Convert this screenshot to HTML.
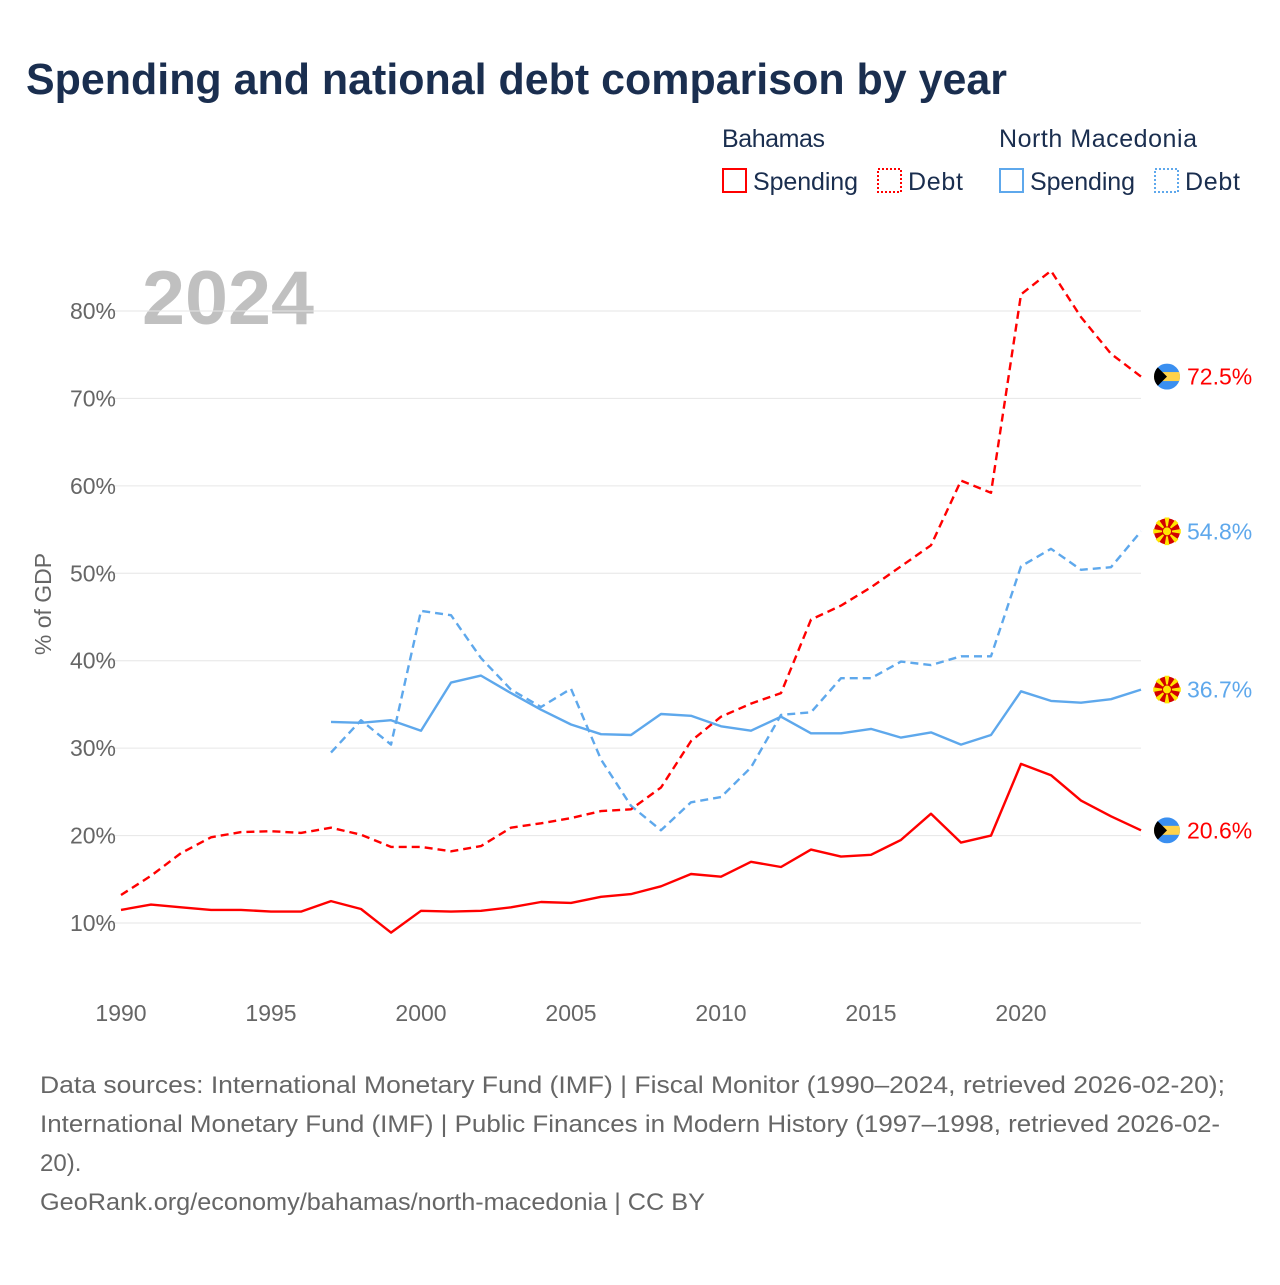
<!DOCTYPE html>
<html><head><meta charset="utf-8"><style>
body{margin:0;background:#fff;font-family:"Liberation Sans",sans-serif;}
svg text{font-family:"Liberation Sans",sans-serif;}
</style></head><body>
<svg width="1280" height="1280" viewBox="0 0 1280 1280" xmlns="http://www.w3.org/2000/svg">
<text x="26" y="94" font-size="44" font-weight="bold" fill="#1a2e4f" textLength="981" lengthAdjust="spacingAndGlyphs">Spending and national debt comparison by year</text>
<g font-size="25" fill="#1a2e4f">
<text x="722" y="147" fill="#1a2e4f" textLength="103">Bahamas</text>
<text x="999" y="147" fill="#1a2e4f" textLength="198">North Macedonia</text>
<rect x="723" y="169" width="23" height="23" fill="none" stroke="#f00" stroke-width="2"/>
<text x="753" y="190" fill="#1a2e4f" textLength="105">Spending</text>
<rect x="878" y="169" width="23" height="23" fill="none" stroke="#f00" stroke-width="2" stroke-dasharray="2,2"/>
<text x="908" y="190" fill="#1a2e4f" textLength="55">Debt</text>
<rect x="1000" y="169" width="23" height="23" fill="none" stroke="#5ea8ec" stroke-width="2"/>
<text x="1030" y="190" fill="#1a2e4f" textLength="105">Spending</text>
<rect x="1155" y="169" width="23" height="23" fill="none" stroke="#5ea8ec" stroke-width="2" stroke-dasharray="2,2"/>
<text x="1185" y="190" fill="#1a2e4f" textLength="55">Debt</text>
</g>
<text x="142" y="324" font-size="76" font-weight="bold" fill="#c0c0c0" textLength="172" lengthAdjust="spacingAndGlyphs">2024</text>
<text transform="translate(51,604) rotate(-90)" text-anchor="middle" font-size="23" fill="#666">% of GDP</text>
<g id="grid"></g><g id="series"></g><g id="endlabels"></g>
<g font-size="24" fill="#666">
<text x="40" y="1093" fill="#666" textLength="1185" lengthAdjust="spacingAndGlyphs">Data sources: International Monetary Fund (IMF) | Fiscal Monitor (1990–2024, retrieved 2026-02-20);</text>
<text x="40" y="1132" fill="#666" textLength="1180" lengthAdjust="spacingAndGlyphs">International Monetary Fund (IMF) | Public Finances in Modern History (1997–1998, retrieved 2026-02-</text>
<text x="40" y="1171" fill="#666">20).</text>
<text x="40" y="1210" fill="#666" textLength="665" lengthAdjust="spacingAndGlyphs">GeoRank.org/economy/bahamas/north-macedonia | CC BY</text>
</g>
</svg>
<script>
const yTicks=[10,20,30,40,50,60,70,80];
const xTicks=[1990,1995,2000,2005,2010,2015,2020];
const bhsSpending=[11.5,12.1,11.8,11.5,11.5,11.3,11.3,12.5,11.6,8.9,11.4,11.3,11.4,11.8,12.4,12.3,13.0,13.3,14.2,15.6,15.3,17.0,16.4,18.4,17.6,17.8,19.5,22.5,19.2,20.0,28.2,26.9,24.0,22.2,20.6];
const bhsDebt=[13.2,15.4,18.0,19.8,20.4,20.5,20.3,20.9,20.1,18.7,18.7,18.2,18.8,20.9,21.4,22.0,22.8,23.0,25.5,30.8,33.6,35.1,36.3,44.7,46.3,48.4,50.8,53.2,60.6,59.2,81.9,84.6,79.3,75.1,72.5];
const mkdSpending=[33.0,32.9,33.2,32.0,37.5,38.3,36.3,34.4,32.7,31.6,31.5,33.9,33.7,32.5,32.0,33.6,31.7,31.7,32.2,31.2,31.8,30.4,31.5,36.5,35.4,35.2,35.6,36.7];
const mkdDebt=[29.5,33.2,30.4,45.7,45.2,40.3,36.7,34.7,36.8,28.7,23.4,20.6,23.8,24.4,27.8,33.8,34.1,38.0,38.0,39.9,39.5,40.5,40.5,50.8,52.8,50.4,50.7,54.8];
const bhsStart=1990, mkdStart=1997;
const NS="http://www.w3.org/2000/svg";
const xs=y=>121+(y-1990)*30;
const ys=v=>923-(v-10)*8.743;
function mk(tag,attrs,parent){const e=document.createElementNS(NS,tag);for(const k in attrs)e.setAttribute(k,attrs[k]);parent.appendChild(e);return e;}
const grid=document.getElementById('grid');
yTicks.forEach(t=>{
 const l=mk('line',{x1:100,x2:1141,y1:ys(t),y2:ys(t),stroke:'#e6e6e6','stroke-width':1},grid);
 
 
 const tx=mk('text',{x:116,y:ys(t)+8,'text-anchor':'end','font-size':23,fill:'#666'},grid);
 tx.textContent=t+'%';
 
 
});
xTicks.forEach(t=>{
 const tx=mk('text',{x:xs(t),y:1021,'text-anchor':'middle','font-size':23,fill:'#666'},grid);
 tx.textContent=t;
 
 
});
const ser=document.getElementById('series');
function line(arr,start,color,dash,name){
 const pts=arr.map((v,i)=>xs(start+i).toFixed(1)+','+ys(v).toFixed(1)).join(' ');
 const p=mk('polyline',{points:pts,fill:'none',stroke:color,'stroke-width':2.4,'stroke-linejoin':'round'},ser);
 if(dash)p.setAttribute('stroke-dasharray','8,5');
 
 
}
line(mkdDebt,mkdStart,'#5ea8ec',true,'line-north-macedonia-debt');
line(mkdSpending,mkdStart,'#5ea8ec',false,'line-north-macedonia-spending');
line(bhsDebt,bhsStart,'#f00',true,'line-bahamas-debt');
line(bhsSpending,bhsStart,'#f00',false,'line-bahamas-spending');
const el=document.getElementById('endlabels');
function bahamasFlag(cy,name){
 const g=mk('g',{},el);
 
 
 const cx=1167;
 mk('clipPath',{id:'c'+name},g).appendChild(document.createElementNS(NS,'circle')).setAttribute('r','13');
 const cl=g.querySelector('clipPath circle');cl.setAttribute('cx',cx);cl.setAttribute('cy',cy);
 const gg=mk('g',{'clip-path':'url(#c'+name+')'},g);
 mk('rect',{x:cx-13,y:cy-13,width:26,height:26,fill:'#3a8ff0'},gg);
 mk('rect',{x:cx-13,y:cy-4.5,width:26,height:9,fill:'#ffd24a'},gg);
 mk('polygon',{points:(cx-13)+','+(cy-13)+' '+(cx)+','+cy+' '+(cx-13)+','+(cy+13),fill:'#000'},gg);
}
function mkFlag(cy,name){
 const g=mk('g',{},el);
 
 
 const cx=1167;
 mk('circle',{cx:cx,cy:cy,r:13,fill:'#d20000'},g);
 for(let i=0;i<8;i++){const a=i*Math.PI/4;
  mk('polygon',{points:cx+','+cy+' '+(cx+14*Math.cos(a-0.17))+','+(cy+14*Math.sin(a-0.17))+' '+(cx+14*Math.cos(a+0.17))+','+(cy+14*Math.sin(a+0.17)),fill:'#ffe600'},g);}
 mk('circle',{cx:cx,cy:cy,r:4.5,fill:'#ffe600',stroke:'#d20000','stroke-width':1},g);
}
function endLabel(v,color,name){
 const t=mk('text',{x:1187,y:ys(v)+8,'font-size':23,fill:color},el);
 t.textContent=v.toFixed(1)+'%';
 
 
}
const bd=bhsDebt[bhsDebt.length-1],bs=bhsSpending[bhsSpending.length-1],md=mkdDebt[mkdDebt.length-1],ms=mkdSpending[mkdSpending.length-1];
bahamasFlag(ys(bd),'flag-bahamas-debt');endLabel(bd,'#f00','end-label-bahamas-debt');
mkFlag(ys(md),'flag-nm-debt');endLabel(md,'#5ea8ec','end-label-nm-debt');
mkFlag(ys(ms),'flag-nm-spending');endLabel(ms,'#5ea8ec','end-label-nm-spending');
bahamasFlag(ys(bs),'flag-bahamas-spending');endLabel(bs,'#f00','end-label-bahamas-spending');
</script>
</body></html>
